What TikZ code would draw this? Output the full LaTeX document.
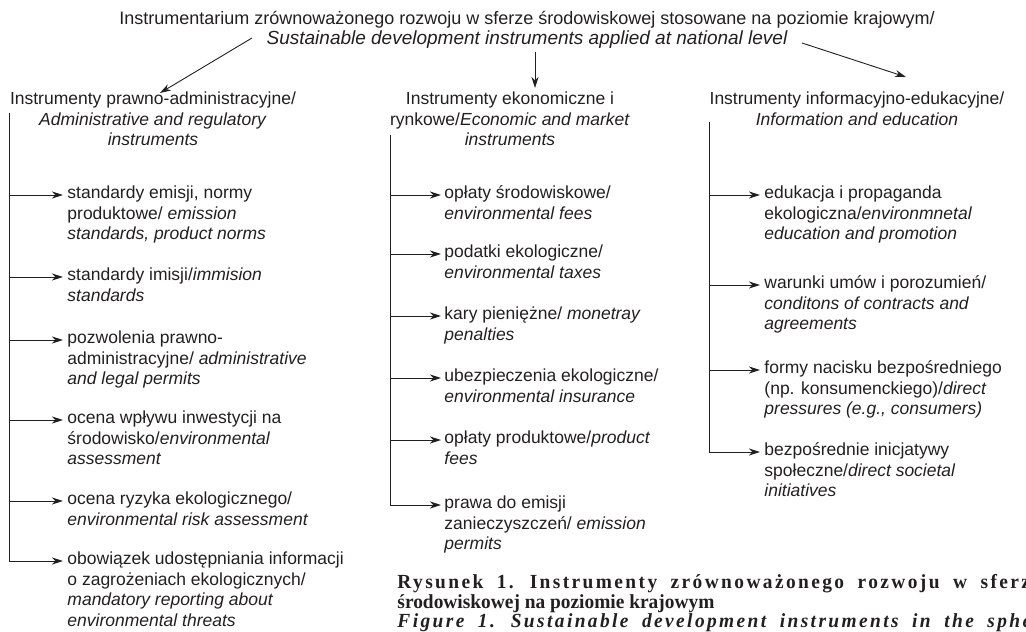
\documentclass[tikz,border=0pt]{standalone}
\usepackage{fontspec}
\setmainfont{Liberation Sans}
\newfontfamily\capfont[FakeStretch=0.97]{Liberation Serif}
\usepackage{xcolor}
\usepackage{tikz}
\usetikzlibrary{arrows.meta}
\definecolor{ink}{RGB}{35,31,32}

\begin{document}
\begin{tikzpicture}[x=1pt,y=-1pt,line width=0.9pt,color=ink,
  arr/.style={-{Stealth[length=11pt,width=7pt,inset=3.5pt]}},
  item/.style={anchor=north west,align=left,inner sep=0pt,font=\fontsize{17.5}{20.5}\selectfont,execute at begin node=\strut},
  head/.style={anchor=north,align=center,inner sep=0pt,font=\fontsize{17.5}{20.5}\selectfont,execute at begin node=\strut},
  capt/.style={anchor=north west,align=left,inner sep=0pt,font=\capfont\bfseries\fontsize{20}{19.5}\selectfont,execute at begin node=\strut}]
\useasboundingbox (0,0) rectangle (1026,632);
\clip (0,0) rectangle (1026,632);

\node[head,font=\fontsize{18}{20.5}\selectfont] (title) at (527,10.6) {Instrumentarium zrównoważonego rozwoju w sferze środowiskowej stosowane na poziomie krajowym/\\ {\fontsize{19}{20.5}\selectfont\itshape Sustainable development instruments applied at national level}};

\node[head] (h1) at (153,91.6) {Instrumenty prawno-administracyjne/\\ \textit{Administrative and regulatory}\\ \textit{instruments}};
\node[head] (h2) at (510,91.6) {Instrumenty ekonomiczne i\\ rynkowe/\textit{Economic and market}\\ \textit{instruments}};
\node[head] (h3) at (857,91.6) {Instrumenty informacyjno-edukacyjne/\\ \textit{Information and education}};

\coordinate (s1) at (252,38);
\coordinate (e1) at (160,93);
\coordinate (s2) at (535,52);
\coordinate (e2) at (535,88);
\coordinate (s3) at (802,43);
\coordinate (e3) at (906,77);
\draw[arr] (s1) -- (e1);
\draw[arr] (s2) -- (e2);
\draw[arr] (s3) -- (e3);

% column 1
\coordinate (k1) at (9,113);
\coordinate (a11) at (63,195);
\coordinate (a12) at (63,277);
\coordinate (a13) at (63,340);
\coordinate (a14) at (63,420);
\coordinate (a15) at (63,501);
\coordinate (a16) at (63,561);
\node[item] (p11) at ([shift={(4,-9.4)}]a11) {standardy emisji, normy\\ produktowe/ \textit{emission}\\ \textit{standards, product norms}};
\node[item] (p12) at ([shift={(4,-9.4)}]a12) {standardy imisji/\textit{immision}\\ \textit{standards}};
\node[item] (p13) at ([shift={(4,-9.4)}]a13) {pozwolenia prawno-\\ administracyjne/ \textit{administrative}\\ \textit{and legal permits}};
\node[item] (p14) at ([shift={(4,-9.4)}]a14) {ocena wpływu inwestycji na\\ środowisko/\textit{environmental}\\ \textit{assessment}};
\node[item] (p15) at ([shift={(4,-9.4)}]a15) {ocena ryzyka ekologicznego/\\ \textit{environmental risk assessment}};
\node[item] (p16) at ([shift={(4,-9.4)}]a16) {obowiązek udostępniania informacji\\ o zagrożeniach ekologicznych/\\ \textit{mandatory reporting about}\\ \textit{environmental threats}};
\draw (k1) -- (k1 |- a16);
\draw[arr] (k1 |- a11) -- (a11);
\draw[arr] (k1 |- a12) -- (a12);
\draw[arr] (k1 |- a13) -- (a13);
\draw[arr] (k1 |- a14) -- (a14);
\draw[arr] (k1 |- a15) -- (a15);
\draw[arr] (k1 |- a16) -- (a16);

% column 2
\coordinate (k2) at (390,135);
\coordinate (a21) at (441,195);
\coordinate (a22) at (441,254);
\coordinate (a23) at (441,316);
\coordinate (a24) at (441,378);
\coordinate (a25) at (441,440);
\coordinate (a26) at (441,505);
\node[item] (p21) at ([shift={(3,-9.4)}]a21) {opłaty środowiskowe/\\ \textit{environmental fees}};
\node[item] (p22) at ([shift={(3,-9.4)}]a22) {podatki ekologiczne/\\ \textit{environmental taxes}};
\node[item] (p23) at ([shift={(3,-9.4)}]a23) {kary pieniężne/ \textit{monetray}\\ \textit{penalties}};
\node[item] (p24) at ([shift={(3,-9.4)}]a24) {ubezpieczenia ekologiczne/\\ \textit{environmental insurance}};
\node[item] (p25) at ([shift={(3,-9.4)}]a25) {opłaty produktowe/\textit{product}\\ \textit{fees}};
\node[item] (p26) at ([shift={(3,-9.4)}]a26) {prawa do emisji\\ zanieczyszczeń/ \textit{emission}\\ \textit{permits}};
\draw (k2) -- (k2 |- a26);
\draw[arr] (k2 |- a21) -- (a21);
\draw[arr] (k2 |- a22) -- (a22);
\draw[arr] (k2 |- a23) -- (a23);
\draw[arr] (k2 |- a24) -- (a24);
\draw[arr] (k2 |- a25) -- (a25);
\draw[arr] (k2 |- a26) -- (a26);

% column 3
\coordinate (k3) at (709,122);
\coordinate (a31) at (760,195);
\coordinate (a32) at (760,285);
\coordinate (a33) at (760,370);
\coordinate (a34) at (760,452);
\node[item] (p31) at ([shift={(4,-9.4)}]a31) {edukacja i propaganda\\ ekologiczna/\textit{environmnetal}\\ \textit{education and promotion}};
\node[item] (p32) at ([shift={(4,-9.4)}]a32) {warunki umów i porozumień/\\ \textit{conditons of contracts and}\\ \textit{agreements}};
\node[item] (p33) at ([shift={(4,-9.4)}]a33) {formy nacisku bezpośredniego\\ (np. konsumenckiego)/\textit{direct}\\ \textit{pressures (e.g., consumers)}};
\node[item] (p34) at ([shift={(4,-9.4)}]a34) {bezpośrednie inicjatywy\\ społeczne/\textit{direct societal}\\ \textit{initiatives}};
\draw (k3) -- (k3 |- a34);
\draw[arr] (k3 |- a31) -- (a31);
\draw[arr] (k3 |- a32) -- (a32);
\draw[arr] (k3 |- a33) -- (a33);
\draw[arr] (k3 |- a34) -- (a34);

\node[capt] (caption) at (397,574) {{\addfontfeature{LetterSpace=12}\spaceskip=13.5pt Rysunek 1. Instrumenty zrównoważonego rozwoju w sferze}\\ środowiskowej na poziomie krajowym\\ {\itshape\addfontfeature{LetterSpace=12}\spaceskip=13.5pt Figure 1. Sustainable development instruments in the sphere}};

\end{tikzpicture}
\end{document}
